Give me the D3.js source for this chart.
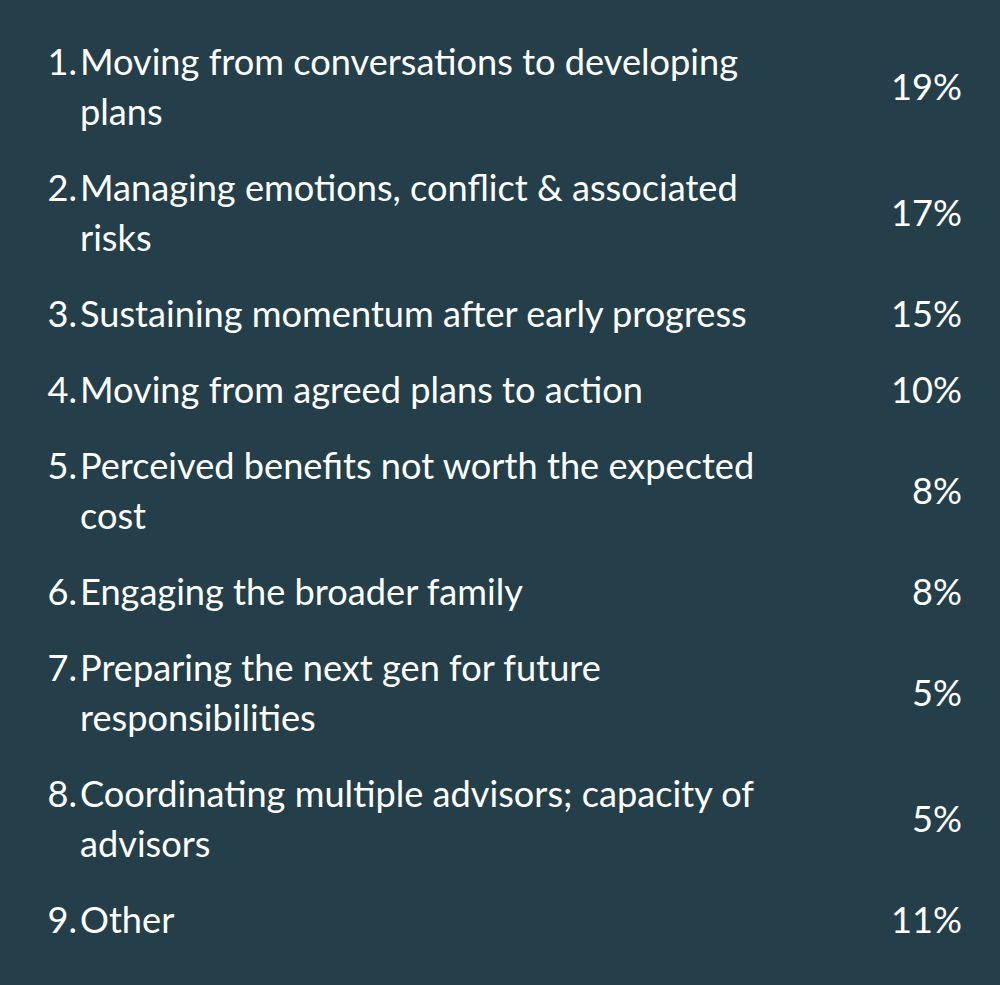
<!DOCTYPE html>
<html><head><meta charset="utf-8">
<script src="https://cdn.jsdelivr.net/npm/d3@7"></script>
<style>body{margin:0;background:#243f4a}</style>
</head><body>
<svg id="c" width="1000" height="985"></svg>
<script>
const numbers = ["1.", "2.", "3.", "4.", "5.", "6.", "7.", "8.", "9."];
const labels = [
  ["Moving from conversations to developing", "plans"],
  ["Managing emotions, conflict & associated", "risks"],
  ["Sustaining momentum after early progress"],
  ["Moving from agreed plans to action"],
  ["Perceived benefits not worth the expected", "cost"],
  ["Engaging the broader family"],
  ["Preparing the next gen for future", "responsibilities"],
  ["Coordinating multiple advisors; capacity of", "advisors"],
  ["Other"]
];
const values = [19, 17, 15, 10, 8, 8, 5, 5, 11];

const svg = d3.select("#c");
svg.append("rect").attr("width", 1000).attr("height", 985).attr("fill", "#243f4a");

const lineH = 50, rowGap = 76, firstY = 62;
// cumulative extra lines before each row
let extra = 0;
const rows = labels.map((l, i) => { const r = {i, l, extra}; extra += l.length - 1; return r; });
const y = d3.scaleLinear().domain([0, 1]).range([firstY, firstY + rowGap]);
const rowY = r => y(r.i) + r.extra * lineH;

const font = "Lato, 'Open Sans', sans-serif";
const g = svg.append("g").attr("fill", "#ffffff").attr("font-family", font).attr("font-size", 34);

const row = g.selectAll("g.row").data(rows).join("g").attr("class", "row")
  .attr("transform", r => `translate(0,${rowY(r)})`);

row.append("text").attr("x", 77).attr("text-anchor", "end").attr("dy", "0.35em")
  .text(r => numbers[r.i]);
row.each(function(r) {
  d3.select(this).selectAll("text.lbl").data(r.l).join("text").attr("class", "lbl")
    .attr("x", 80).attr("y", (d, k) => k * lineH).attr("dy", "0.35em").text(d => d);
});
row.append("text").attr("x", 962).attr("text-anchor", "end").attr("dy", "0.35em")
  .attr("y", r => (r.l.length - 1) * lineH / 2)
  .text(r => values[r.i] + "%");

// fit label width to reference (line 3 spans ~667px)
const ref = row.filter(r => r.i === 2).select("text.lbl").node();
const w = ref.getComputedTextLength();
g.attr("font-size", 34 * 667 / w);
</script>
</body></html>
